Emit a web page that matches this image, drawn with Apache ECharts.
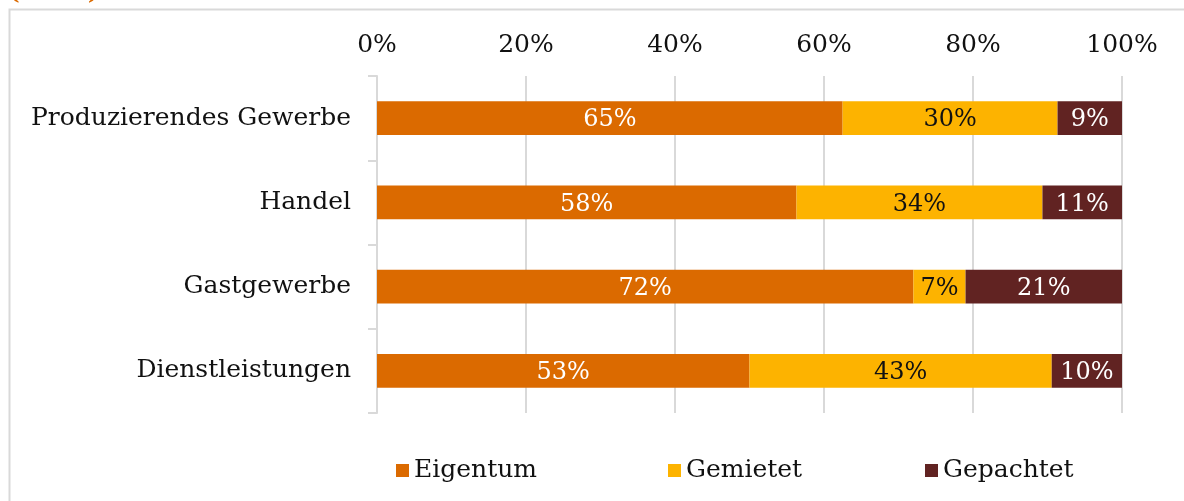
<!DOCTYPE html>
<html>
<head>
<meta charset="utf-8">
<script src="https://cdn.jsdelivr.net/npm/echarts@6/dist/echarts.min.js"></script>
<style>
  html, body { margin: 0; padding: 0; background: #fff; }
  #chart { width: 1184px; height: 501px; }
</style>
</head>
<body>
<div id="chart"></div>
<script>
// Anteile nach Branche (gerundete Werte, Summe nicht immer 100)
const categories = ['Produzierendes Gewerbe', 'Handel', 'Gastgewerbe', 'Dienstleistungen'];
const eigentum = [65, 58, 72, 53];
const gemietet = [30, 34, 7, 43];
const gepachtet = [9, 11, 21, 10];
const xTicks = [0, 20, 40, 60, 80, 100];

const FONT = '"DejaVu Serif", "Liberation Serif", serif';
const colors = { Eigentum: '#db6a00', Gemietet: '#fdb300', Gepachtet: '#612322' };

// bars are drawn as 100% stacked, so scale each row by its total
const totals = categories.map((c, i) => eigentum[i] + gemietet[i] + gepachtet[i]);
function share(arr) {
  return arr.map((v, i) => ({ value: v / totals[i] * 100, raw: v }));
}

function makeSeries(name, arr, labelColor) {
  return {
    name: name,
    type: 'bar',
    stack: 'all',
    barWidth: '40%',
    itemStyle: { color: colors[name] },
    label: {
      show: true,
      position: 'inside',
      color: labelColor,
      fontFamily: FONT,
      fontSize: 24,
      offset: [0, 2],
      formatter: (p) => p.data.raw + '%'
    },
    data: share(arr)
  };
}

const chart = echarts.init(document.getElementById('chart'));

const legendText = { fontSize: 25, fontFamily: FONT, color: '#111' };

const option = {
  animation: false,
  textStyle: { fontFamily: FONT },
  graphic: [
    {
      type: 'rect',
      shape: { x: 9.5, y: 9.5, width: 1200, height: 520 },
      style: { fill: 'none', stroke: '#d9d9d9', lineWidth: 2 },
      silent: true
    },
    {
      type: 'text',
      left: 8,
      top: -20,
      style: { text: '(EBM)', fill: '#db6a00', font: 'bold 25px ' + FONT }
    }
  ],
  grid: { left: 377, right: 62, top: 76, bottom: 88 },
  xAxis: {
    type: 'value',
    position: 'top',
    min: xTicks[0],
    max: xTicks[xTicks.length - 1],
    interval: 20,
    axisLine: { show: false },
    axisTick: { show: false },
    axisLabel: {
      color: '#111',
      fontSize: 25,
      fontFamily: FONT,
      margin: 18,
      formatter: '{value}%'
    },
    splitLine: { show: true, lineStyle: { color: '#d9d9d9', width: 2 } }
  },
  yAxis: {
    type: 'category',
    inverse: true,
    data: categories,
    axisLine: { show: true, lineStyle: { color: '#d9d9d9', width: 2 } },
    axisTick: { show: true, length: 9, lineStyle: { color: '#d9d9d9', width: 2 } },
    axisLabel: { color: '#111', fontSize: 25, fontFamily: FONT, margin: 26 }
  },
  legend: [
    {
      data: ['Eigentum'], left: 391, bottom: 13,
      icon: 'rect', itemWidth: 13, itemHeight: 13, itemGap: 6,
      textStyle: legendText
    },
    {
      data: ['Gemietet'], left: 663, bottom: 13,
      icon: 'rect', itemWidth: 13, itemHeight: 13,
      textStyle: legendText
    },
    {
      data: ['Gepachtet'], left: 920, bottom: 13,
      icon: 'rect', itemWidth: 13, itemHeight: 13,
      textStyle: legendText
    }
  ],
  series: [
    makeSeries('Eigentum', eigentum, '#fff'),
    makeSeries('Gemietet', gemietet, '#111'),
    makeSeries('Gepachtet', gepachtet, '#fff')
  ]
};

chart.setOption(option);
</script>
</body>
</html>
